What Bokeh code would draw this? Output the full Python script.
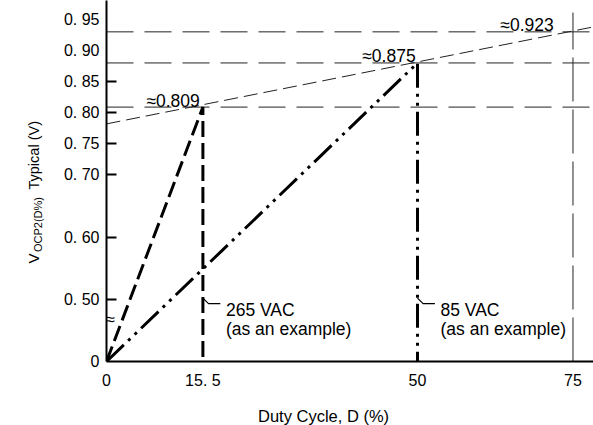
import math
from bokeh.plotting import figure
from bokeh.layouts import row, column
from bokeh.models import FixedTicker, Range1d
from bokeh.embed import file_html
from bokeh.resources import INLINE
from bokeh.core.properties import value

# ---------------- data ----------------
duty_265 = [0.0, 15.5, 15.5]          # 265 VAC example (%)
vocp_265 = [0.0, 0.809, 0.0]          # V
duty_85 = [0.0, 50.0, 50.0]           # 85 VAC example (%)
vocp_85 = [0.0, 0.88, 0.0]            # V
approx_levels = [0.809, 0.88, 0.93]
approx_labels = ["\u22480.809", "\u22480.875", "\u22480.923"]
trend_duty = [0.0, 78.3]
trend_vocp = [0.782, 0.938]
x_ticks = [0, 15.5, 50, 75]
x_tick_labels = ["0", "15. 5", "50", "75"]
y_ticks = [0.0, 0.50, 0.60, 0.70, 0.75, 0.80, 0.85, 0.90, 0.95]
y_tick_labels = ["0", "0. 50", "0. 60", "0. 70", "0. 75", "0. 80", "0. 85", "0. 90", "0. 95"]
y_tick_marks = [0.50, 0.60, 0.70, 0.75, 0.80, 0.85]
example_duty = [15.5, 50.0]
example_line1 = ["265 VAC", "85 VAC"]
example_line2 = ["(as an example)", "(as an example)"]
x_title = "Duty Cycle, D (%)"
y_title_parts = ["V", "OCP2(D%)", "Typical (V)"]

# broken axis: values below 0.50 V are compressed, 0 V sits at 0.40
ZERO_POS = 0.40
BREAK_AT = 0.50


def ymap(vals):
    out = []
    for v in vals:
        if v >= BREAK_AT:
            out.append(v)
        else:
            out.append(ZERO_POS + v * (BREAK_AT - ZERO_POS) / BREAK_AT)
    return out


FONT = value("Liberation Sans")
X_END = 78.3
Y_TOP = 0.9804
W, H = 593, 425
TITLE_W = 50
XT_H = 30


def blank(width, height):
    f = figure(width=width, height=height, x_range=Range1d(0, width), y_range=Range1d(0, height),
               output_backend="svg", toolbar_location=None, min_border=0)
    f.axis.visible = False
    f.grid.visible = False
    f.outline_line_color = None
    return f


# ---------- y-axis title panel ----------
yt = blank(TITLE_W, H)
yt.text(x=[33.0, 37.5, 33.0], y=[162.0, 173.5, 236.0], text=y_title_parts,
        text_font=FONT, text_font_size=["15px", "11px", "14.5px"], text_color="black",
        angle=math.pi / 2, text_align="left", text_baseline="alphabetic")

# ---------- x-axis title panel ----------
xt = blank(W - TITLE_W, XT_H)
xt.text(x=[242.0], y=[10.0], text=[x_title], text_font=FONT, text_font_size="16.5px",
        text_color="black", text_align="center", text_baseline="middle")

# ---------- main chart ----------
p = figure(width=W - TITLE_W, height=H - XT_H, x_range=Range1d(0, X_END), y_range=Range1d(ZERO_POS, Y_TOP),
           output_backend="svg", toolbar_location=None,
           min_border_left=106 - TITLE_W, min_border_right=0, min_border_top=0,
           min_border_bottom=H - XT_H - 361)
p.outline_line_color = None
p.grid.visible = False

p.xaxis.ticker = FixedTicker(ticks=x_ticks)
p.xaxis.major_label_overrides = {t: l for t, l in zip(x_ticks, x_tick_labels)}
p.xaxis.major_tick_line_color = None
p.xaxis.minor_tick_line_color = None
p.xaxis.major_tick_out = 0
p.xaxis.major_tick_in = 0
p.xaxis.major_label_standoff = 10
p.xaxis.axis_line_width = 2
p.xaxis.axis_line_color = "black"

ym = ymap(y_ticks)
p.yaxis.ticker = FixedTicker(ticks=ym, minor_ticks=y_tick_marks)
p.yaxis.major_label_overrides = {t: l for t, l in zip(ym, y_tick_labels)}
p.yaxis.major_tick_line_color = None
p.yaxis.major_tick_out = 0
p.yaxis.major_tick_in = 0
p.yaxis.minor_tick_in = 10
p.yaxis.minor_tick_out = 0
p.yaxis.minor_tick_line_width = 2
p.yaxis.minor_tick_line_color = "black"
p.yaxis.major_label_standoff = 7
p.yaxis.axis_line_width = 2
p.yaxis.axis_line_color = "black"

for ax in (p.xaxis, p.yaxis):
    ax.major_label_text_font = "Liberation Sans"
    ax.major_label_text_font_size = "16px"
    ax.major_label_text_color = "black"

# thin reference lines
p.segment(x0=[0.0] * 3, y0=approx_levels, x1=[X_END] * 3, y1=approx_levels,
          line_color="#222222", line_width=1, line_dash="27 11")
p.segment(x0=[75.0], y0=ymap([0.0]), x1=[75.0], y1=[0.961],
          line_color="#222222", line_width=1, line_dash="44 8")
p.line(trend_duty, trend_vocp, line_color="#222222", line_width=1, line_dash="14 6")

# thick example lines
p.line(duty_265, ymap(vocp_265), line_color="black", line_width=3, line_dash="16 6")
p.line(duty_85, ymap(vocp_85), line_color="black", line_width=3, line_dash="24 6 3 6 3 6")

# leaders
lead_dx = [0.0, 0.9, 2.8]
lead_y = [0.502, 0.493, 0.493]
for d in example_duty:
    p.line([d + dx for dx in lead_dx], lead_y, line_color="black", line_width=1.2)

# example texts
p.text(x=[d + 3.7 for d in example_duty], y=[0.483, 0.483], text=example_line1,
       text_font=FONT, text_font_size="17.5px", text_color="black",
       text_align="left", text_baseline="alphabetic")
p.text(x=[d + 3.7 for d in example_duty], y=[0.4515, 0.4515], text=example_line2,
       text_font=FONT, text_font_size="17.5px", text_color="black",
       text_align="left", text_baseline="alphabetic")

# approx value labels
p.text(x=[15.0, 49.7, 71.9], y=[lv + 0.0105 for lv in approx_levels], text=approx_labels,
       text_font=FONT, text_font_size="17.5px", text_color="black",
       text_align="right", text_baseline="alphabetic")

# axis break mark
p.text(x=[0.0], y=[0.4675], text=["\u2248"], text_font=FONT, text_font_size="17px",
       text_color="black", text_align="left", text_baseline="middle", x_offset=-1)

layout = row(yt, column(p, xt, spacing=0), spacing=0)
open("out.html", "w").write(file_html(layout, INLINE))
